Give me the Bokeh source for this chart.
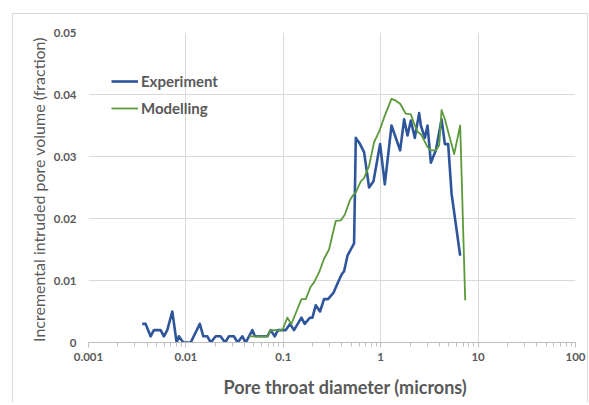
from bokeh.plotting import figure
from bokeh.models import FixedTicker, Legend, LegendItem, Title
from bokeh.embed import file_html
from bokeh.resources import INLINE

# Experiment (pore throat diameter in microns, incremental fraction)
exp_x = [0.00356, 0.00386, 0.00434, 0.00469, 0.0055, 0.00594, 0.00644, 0.00725, 0.00803, 0.00847,
         0.0094, 0.0112, 0.0139, 0.0151, 0.0166, 0.018, 0.0202, 0.0227, 0.0252, 0.0277,
         0.0311, 0.034, 0.038, 0.0411, 0.0481, 0.0512, 0.0559, 0.0614, 0.0686, 0.0742,
         0.0816, 0.0882, 0.106, 0.1172, 0.1288, 0.1535, 0.166, 0.188, 0.199, 0.2153,
         0.2383, 0.262, 0.288, 0.327, 0.36, 0.398, 0.4206, 0.456, 0.493, 0.533,
         0.555, 0.614, 0.675, 0.76, 0.843, 0.986, 1.102, 1.291, 1.583, 1.74,
         1.886, 2.039, 2.241, 2.481, 2.583, 2.84, 3.027, 3.273, 3.685, 4.217,
         4.559, 4.928, 5.342, 6.549]
exp_y = [0.003, 0.003, 0.001, 0.002, 0.002, 0.001, 0.002, 0.005, 0.0, 0.001,
         0.0, 0.0, 0.003, 0.001, 0.001, 0.0, 0.001, 0.001, 0.0, 0.001,
         0.001, 0.0, 0.001, 0.0, 0.002, 0.001, 0.001, 0.001, 0.001, 0.002,
         0.001, 0.002, 0.002, 0.003, 0.002, 0.004, 0.003, 0.004, 0.004, 0.006,
         0.005, 0.007, 0.007, 0.008, 0.0095, 0.011, 0.0115, 0.014, 0.015, 0.016,
         0.033, 0.032, 0.0307, 0.025, 0.026, 0.032, 0.0255, 0.035, 0.031, 0.036,
         0.0334, 0.0358, 0.033, 0.037, 0.035, 0.033, 0.035, 0.029, 0.031, 0.036,
         0.032, 0.032, 0.024, 0.014]

# Modelling
mod_x = [0.0444, 0.0485, 0.0533, 0.0614, 0.0686, 0.0742, 0.0816, 0.0979, 0.1102, 0.1211,
         0.1364, 0.1535, 0.17, 0.1913, 0.2067, 0.2328, 0.262, 0.2949, 0.3456, 0.389,
         0.4277, 0.4847, 0.5167, 0.555, 0.6245, 0.675, 0.76, 0.8553, 0.963, 1.084,
         1.291, 1.429, 1.583, 1.811, 2.039, 2.204, 2.389, 2.583, 2.793, 3.027,
         3.273, 3.685, 3.984, 4.217, 4.559, 4.928, 5.681, 6.549, 7.37]
mod_y = [0.001, 0.001, 0.001, 0.001, 0.001, 0.002, 0.002, 0.002, 0.004, 0.003,
         0.005, 0.007, 0.007, 0.009, 0.0097, 0.0113, 0.0135, 0.015, 0.0196, 0.0197,
         0.0206, 0.023, 0.0237, 0.0242, 0.026, 0.0265, 0.0285, 0.0323, 0.034, 0.0363,
         0.0393, 0.039, 0.0385, 0.0369, 0.0368, 0.0353, 0.034, 0.0336, 0.0326, 0.0315,
         0.031, 0.031, 0.0318, 0.0375, 0.036, 0.034, 0.0304, 0.035, 0.0068]

x_ticks = [0.001, 0.01, 0.1, 1, 10, 100]
x_tick_labels = ["0.001", "0.01", "0.1", "1", "10", "100"]
y_ticks = [0, 0.01, 0.02, 0.03, 0.04, 0.05]
y_tick_labels = ["0", "0.01", "0.02", "0.03", "0.04", "0.05"]

FONT = "Lato"
GREY = "#595959"
GRID = "#d9d9d9"

p = figure(x_axis_type="log", x_range=(0.001, 100), y_range=(0, 0.05),
           frame_width=487, frame_height=310,
           min_border_left=75, min_border_right=12, min_border_top=18, min_border_bottom=60,
           output_backend="svg", toolbar_location=None, background_fill_color="white",
           border_fill_color="white")
p.outline_line_color = None
p.margin = (13, 0, 0, 12)
p.styles = {"border-top": "1px solid #d9d9d9", "border-left": "1px solid #d9d9d9",
            "border-right": "1px solid #d9d9d9"}

l1 = p.line(exp_x, exp_y, line_color="#2F559B", line_width=2.6, line_join="round")
l2 = p.line(mod_x, mod_y, line_color="#5B9A3A", line_width=1.8, line_join="round")

legend = Legend(items=[LegendItem(label="Experiment", renderers=[l1]),
                       LegendItem(label="Modelling", renderers=[l2])],
                location=(23, 224), padding=0, margin=0, spacing=7,
                glyph_width=27, glyph_height=20, label_height=20, label_standoff=3,
                background_fill_alpha=0, border_line_color=None,
                label_text_font=FONT, label_text_font_style="bold",
                label_text_font_size="15px", label_text_color=GREY)
p.add_layout(legend, "center")

# x axis
xa = p.xaxis[0]
xa.ticker = FixedTicker(ticks=x_ticks, minor_ticks=[m * d for d in [0.001, 0.01, 0.1, 1, 10] for m in range(2, 10)])
xa.major_label_overrides = {t: lab for t, lab in zip(x_ticks, x_tick_labels)}
xa.axis_line_color = "#bfbfbf"
xa.major_tick_line_color = "#bfbfbf"
xa.minor_tick_line_color = "#bfbfbf"
xa.major_tick_out = 5
xa.major_tick_in = 0
xa.minor_tick_out = 4
xa.minor_tick_in = 0
xa.major_label_text_font = FONT
xa.major_label_text_font_size = "11.5px"
xa.major_label_text_color = GREY
xa.major_label_text_font_style = "bold"
xa.major_label_standoff = 5

x_title = Title(text="Pore throat diameter (microns)", align="left", offset=135,
                text_font=FONT, text_font_size="18px", text_font_style="bold",
                text_color=GREY, standoff=0)
try:
    x_title.padding = dict(left=0, right=0, top=10, bottom=0)
except Exception:
    pass
p.add_layout(x_title, "below")

# y axis
ya = p.yaxis[0]
ya.ticker = FixedTicker(ticks=y_ticks)
ya.major_label_overrides = {t: lab for t, lab in zip(y_ticks, y_tick_labels)}
ya.axis_line_color = None
ya.major_tick_line_color = None
ya.minor_tick_line_color = None
ya.major_label_text_font = FONT
ya.major_label_text_font_size = "11.5px"
ya.major_label_text_color = GREY
ya.major_label_text_font_style = "bold"
ya.major_label_standoff = 6
ya.axis_label = "Incremental intruded pore volume  (fraction)"
ya.axis_label_text_font = FONT
ya.axis_label_text_font_size = "16px"
ya.axis_label_text_font_style = "normal"
ya.axis_label_text_color = GREY
ya.axis_label_standoff = 3

p.xgrid.grid_line_color = GRID
p.ygrid.grid_line_color = GRID
p.xgrid.ticker = FixedTicker(ticks=x_ticks)

open("out.html", "w").write(file_html(p, INLINE))
